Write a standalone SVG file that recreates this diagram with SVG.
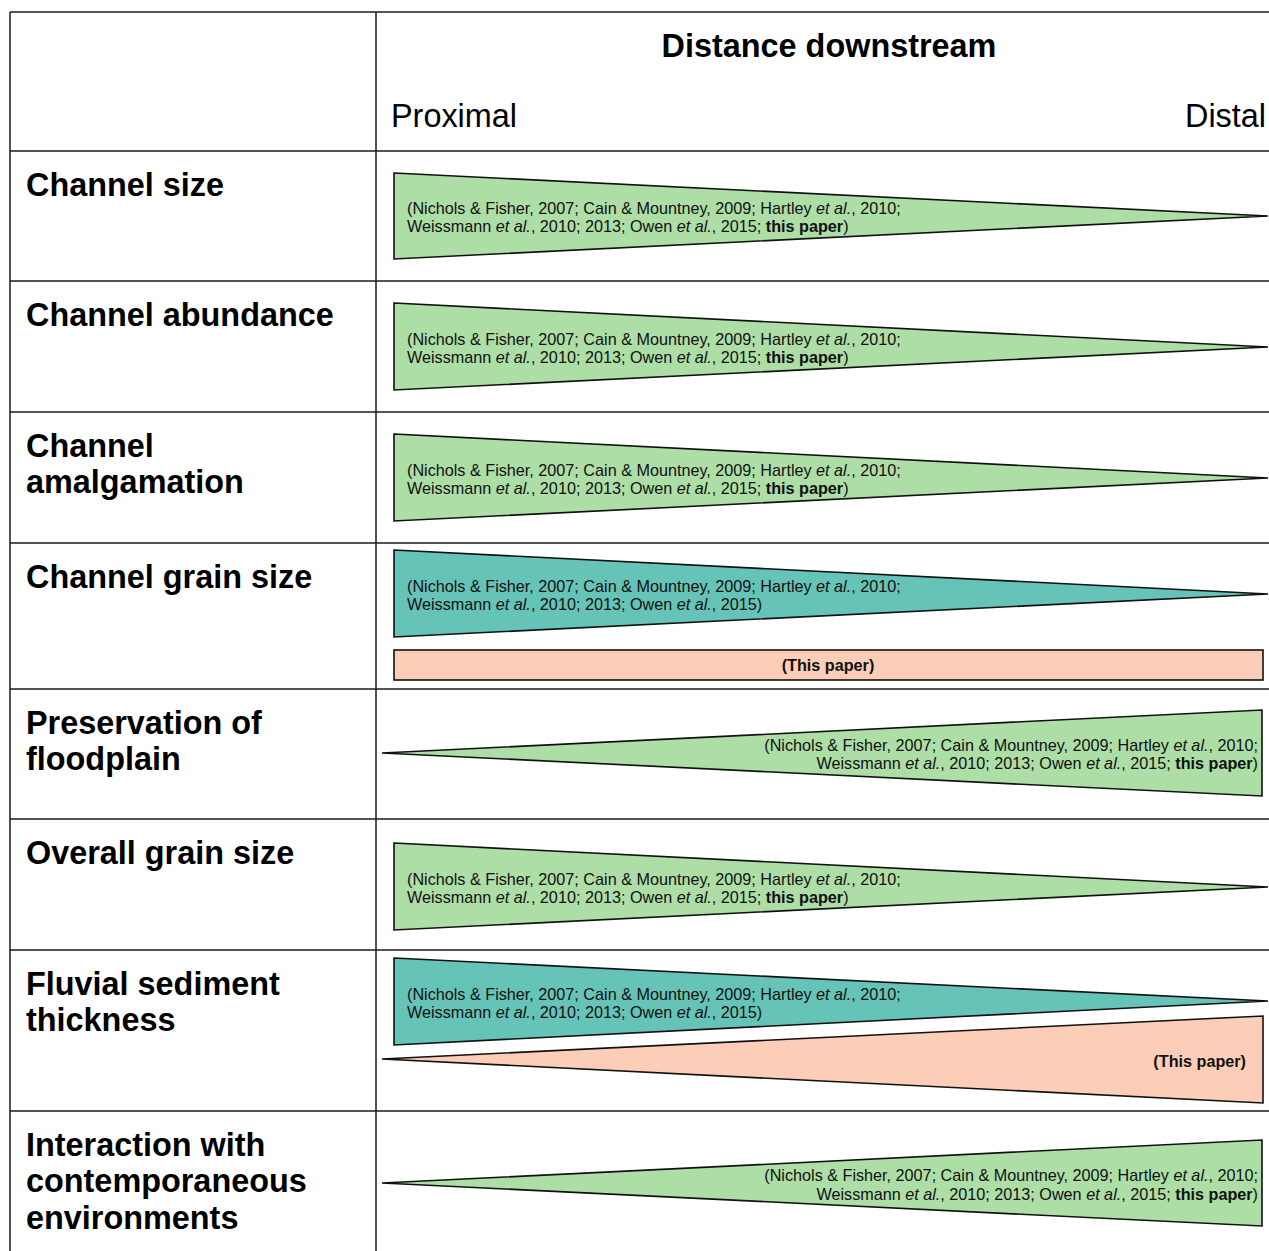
<svg xmlns="http://www.w3.org/2000/svg" width="1269" height="1251" viewBox="0 0 1269 1251">
<style>
.grid{stroke:#1a1a1a;stroke-width:1.5;fill:none}
.wedge{stroke:#111;stroke-width:1.6;stroke-linejoin:miter}
.g{fill:#addea6}
.t{fill:#66c3b7}
.p{fill:#fccdb7}
.lab{font-family:"Liberation Sans",Arial,sans-serif;font-weight:bold;font-size:32.4px;fill:#000}
.hdr{font-family:"Liberation Sans",Arial,sans-serif;font-size:32.4px;fill:#000}
.cit{font-family:"Liberation Sans",Arial,sans-serif;font-size:16.2px;fill:#111}
.b{font-weight:bold}
.i{font-style:italic}
</style>
<rect width="1269" height="1251" fill="#fff"/>
<g id="table" class="grid">
<line x1="10" y1="12" x2="1269" y2="12"/>
<line x1="10" y1="12" x2="10" y2="1251"/>
<line x1="376" y1="12" x2="376" y2="1251"/>
<line x1="10" y1="151" x2="1269" y2="151"/>
<line x1="10" y1="281" x2="1269" y2="281"/>
<line x1="10" y1="412" x2="1269" y2="412"/>
<line x1="10" y1="543" x2="1269" y2="543"/>
<line x1="10" y1="689" x2="1269" y2="689"/>
<line x1="10" y1="819" x2="1269" y2="819"/>
<line x1="10" y1="950" x2="1269" y2="950"/>
<line x1="10" y1="1111" x2="1269" y2="1111"/>
</g>
<g id="header">
<text class="hdr b" x="829" y="57" text-anchor="middle">Distance downstream</text>
<text class="hdr" x="391" y="127">Proximal</text>
<text class="hdr" x="1266" y="127" text-anchor="end">Distal</text>
</g>
<g id="labels">
<text class="lab" x="26" y="196">Channel size</text>
<text class="lab" x="26" y="326">Channel abundance</text>
<text class="lab" x="26" y="457">Channel</text>
<text class="lab" x="26" y="493">amalgamation</text>
<text class="lab" x="26" y="588">Channel grain size</text>
<text class="lab" x="26" y="734">Preservation of</text>
<text class="lab" x="26" y="770">floodplain</text>
<text class="lab" x="26" y="864">Overall grain size</text>
<text class="lab" x="26" y="995">Fluvial sediment</text>
<text class="lab" x="26" y="1031">thickness</text>
<text class="lab" x="26" y="1156">Interaction with</text>
<text class="lab" x="26" y="1192">contemporaneous</text>
<text class="lab" x="26" y="1229">environments</text>
</g>
<g id="row1">
<polygon class="wedge g" points="394,173 1268,216 394,259"/>
<text class="cit" x="407" y="214">(Nichols &amp; Fisher, 2007; Cain &amp; Mountney, 2009; Hartley <tspan class="i">et al.</tspan>, 2010;</text>
<text class="cit" x="407" y="232">Weissmann <tspan class="i">et al.</tspan>, 2010; 2013; Owen <tspan class="i">et al.</tspan>, 2015; <tspan class="b">this paper</tspan>)</text>
</g>
<g id="row2">
<polygon class="wedge g" points="394,303 1268,347 394,390"/>
<text class="cit" x="407" y="345">(Nichols &amp; Fisher, 2007; Cain &amp; Mountney, 2009; Hartley <tspan class="i">et al.</tspan>, 2010;</text>
<text class="cit" x="407" y="363">Weissmann <tspan class="i">et al.</tspan>, 2010; 2013; Owen <tspan class="i">et al.</tspan>, 2015; <tspan class="b">this paper</tspan>)</text>
</g>
<g id="row3">
<polygon class="wedge g" points="394,434 1268,478 394,521"/>
<text class="cit" x="407" y="476">(Nichols &amp; Fisher, 2007; Cain &amp; Mountney, 2009; Hartley <tspan class="i">et al.</tspan>, 2010;</text>
<text class="cit" x="407" y="494">Weissmann <tspan class="i">et al.</tspan>, 2010; 2013; Owen <tspan class="i">et al.</tspan>, 2015; <tspan class="b">this paper</tspan>)</text>
</g>
<g id="row4">
<polygon class="wedge t" points="394,550 1268,594 394,637"/>
<text class="cit" x="407" y="592">(Nichols &amp; Fisher, 2007; Cain &amp; Mountney, 2009; Hartley <tspan class="i">et al.</tspan>, 2010;</text>
<text class="cit" x="407" y="610">Weissmann <tspan class="i">et al.</tspan>, 2010; 2013; Owen <tspan class="i">et al.</tspan>, 2015)</text>
<rect class="wedge p" x="394" y="650" width="869" height="30"/>
<text class="cit b" x="828" y="671" text-anchor="middle">(This paper)</text>
</g>
<g id="row5">
<polygon class="wedge g" points="382,753 1262,710 1262,796"/>
<text class="cit" x="1258" y="751" text-anchor="end">(Nichols &amp; Fisher, 2007; Cain &amp; Mountney, 2009; Hartley <tspan class="i">et al.</tspan>, 2010;</text>
<text class="cit" x="1258" y="769" text-anchor="end">Weissmann <tspan class="i">et al.</tspan>, 2010; 2013; Owen <tspan class="i">et al.</tspan>, 2015; <tspan class="b">this paper</tspan>)</text>
</g>
<g id="row6">
<polygon class="wedge g" points="394,843 1268,887 394,930"/>
<text class="cit" x="407" y="885">(Nichols &amp; Fisher, 2007; Cain &amp; Mountney, 2009; Hartley <tspan class="i">et al.</tspan>, 2010;</text>
<text class="cit" x="407" y="903">Weissmann <tspan class="i">et al.</tspan>, 2010; 2013; Owen <tspan class="i">et al.</tspan>, 2015; <tspan class="b">this paper</tspan>)</text>
</g>
<g id="row7">
<polygon class="wedge t" points="394,958 1268,1001 394,1045"/>
<text class="cit" x="407" y="1000">(Nichols &amp; Fisher, 2007; Cain &amp; Mountney, 2009; Hartley <tspan class="i">et al.</tspan>, 2010;</text>
<text class="cit" x="407" y="1018">Weissmann <tspan class="i">et al.</tspan>, 2010; 2013; Owen <tspan class="i">et al.</tspan>, 2015)</text>
<polygon class="wedge p" points="382,1059 1263,1016 1263,1103"/>
<text class="cit b" x="1246" y="1067" text-anchor="end">(This paper)</text>
</g>
<g id="row8">
<polygon class="wedge g" points="382,1183 1262,1140 1262,1226"/>
<text class="cit" x="1258" y="1181" text-anchor="end">(Nichols &amp; Fisher, 2007; Cain &amp; Mountney, 2009; Hartley <tspan class="i">et al.</tspan>, 2010;</text>
<text class="cit" x="1258" y="1200" text-anchor="end">Weissmann <tspan class="i">et al.</tspan>, 2010; 2013; Owen <tspan class="i">et al.</tspan>, 2015; <tspan class="b">this paper</tspan>)</text>
</g>
</svg>
